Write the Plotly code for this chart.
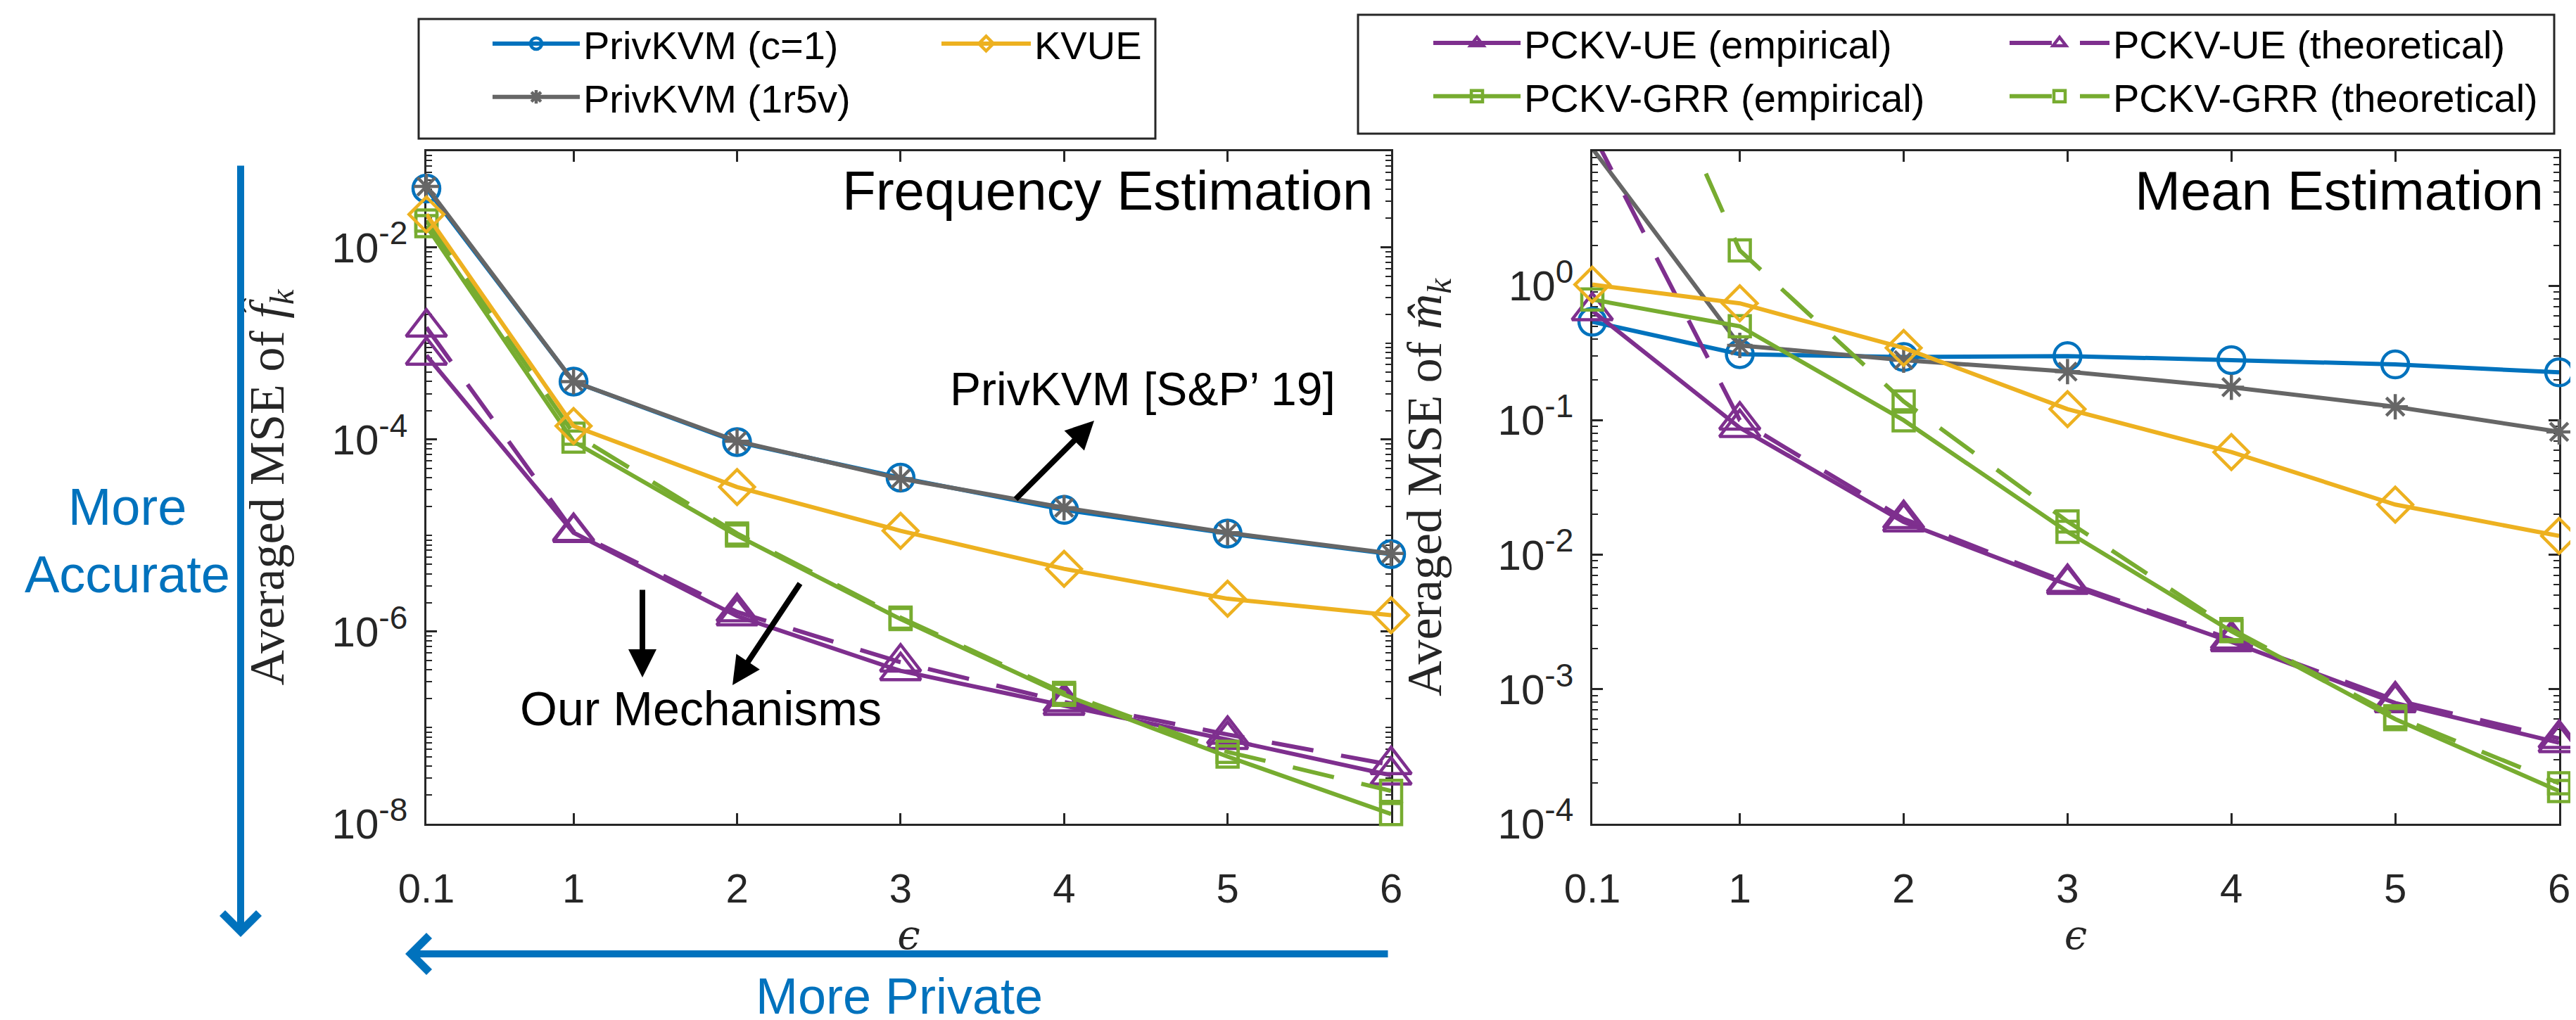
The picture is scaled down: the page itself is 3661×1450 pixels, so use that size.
import plotly.graph_objects as go

W, H = 3661, 1450

# ---------------- data ----------------
eps = [0.1, 1, 2, 3, 4, 5, 6]
x_ticktext = ["0.1", "1", "2", "3", "4", "5", "6"]

# Frequency estimation (left panel): averaged MSE of f_k
freq_privkvm_c1 = [4.1e-2, 4.0e-4, 9.4e-5, 4.0e-5, 1.85e-5, 1.05e-5, 6.4e-6]
freq_privkvm_1r5v = [4.3e-2, 4.0e-4, 9.6e-5, 3.9e-5, 1.95e-5, 1.07e-5, 6.5e-6]
freq_kvue = [2.2e-2, 1.38e-4, 3.2e-5, 1.12e-5, 4.5e-6, 2.2e-6, 1.48e-6]
freq_ue_emp = [7.5e-4, 1.07e-5, 1.45e-6, 3.9e-7, 1.7e-7, 7.5e-8, 3.2e-8]
freq_ue_theo = [1.47e-3, 1.1e-5, 1.6e-6, 4.8e-7, 1.85e-7, 8.5e-8, 4.1e-8]
freq_grr_emp = [1.66e-2, 9.5e-5, 1.0e-5, 1.35e-6, 2.2e-7, 5.0e-8, 1.26e-8]
freq_grr_theo = [1.9e-2, 1.15e-4, 1.05e-5, 1.4e-6, 2.3e-7, 5.6e-8, 2.2e-8]

# Mean estimation (right panel): averaged MSE of m_k
mean_privkvm_c1 = [0.54, 0.31, 0.295, 0.30, 0.28, 0.26, 0.227]
mean_privkvm_1r5v = [10.5, 0.36, 0.28, 0.23, 0.176, 0.126, 0.082]
mean_kvue = [1.02, 0.74, 0.345, 0.121, 0.058, 0.0236, 0.0138]
mean_ue_emp = [0.65, 0.088, 0.0175, 6.0e-3, 2.25e-3, 7.9e-4, 4.0e-4]
mean_ue_theo = [13.8, 0.10, 0.0185, 6.2e-3, 2.35e-3, 8.3e-4, 4.3e-4]
mean_grr_emp = [0.79, 0.50, 0.10, 0.0148, 2.7e-3, 6.0e-4, 1.75e-4]
mean_grr_theo = [560.0, 1.83, 0.138, 0.0177, 2.8e-3, 6.3e-4, 2.0e-4]

left_major = [1e-8, 1e-6, 1e-4, 1e-2]
left_exp = ["-8", "-6", "-4", "-2"]
right_major = [1e-4, 1e-3, 1e-2, 1e-1, 1]
right_exp = ["-4", "-3", "-2", "-1", "0"]

# ---------------- styles ----------------
BLUE, GRAY, YELLOW, PURPLE, GREEN = "#0072BD", "#666666", "#EDB120", "#7E2F8E", "#77AC30"
AX = "#262626"
SANS = "Liberation Sans"


def power_labels(exps):
    return ["10<sup><span style='font-size:46px'>%s</span></sup>" % e for e in exps]


series = [
    # name, left data, right data, color, symbol, size, dash, legend
    ("PrivKVM (c=1)", freq_privkvm_c1, mean_privkvm_c1, BLUE, "circle-open", 38, "solid", "legend"),
    ("PrivKVM (1r5v)", freq_privkvm_1r5v, mean_privkvm_1r5v, GRAY, "asterisk-open", 30, "solid", "legend"),
    ("PCKV-UE (empirical)", freq_ue_emp, mean_ue_emp, PURPLE, "triangle-up-open", 50, "solid", "legend3"),
    ("PCKV-UE (theoretical)", freq_ue_theo, mean_ue_theo, PURPLE, "triangle-up-open", 50, "60px,40px", "legend4"),
    ("PCKV-GRR (empirical)", freq_grr_emp, mean_grr_emp, GREEN, "square-open", 30, "solid", "legend3"),
    ("PCKV-GRR (theoretical)", freq_grr_theo, mean_grr_theo, GREEN, "square-open", 30, "60px,40px", "legend4"),
    ("KVUE", freq_kvue, mean_kvue, YELLOW, "diamond-open", 38, "solid", "legend2"),
]

fig = go.Figure()
for name, fl, fr, col, sym, sz, dash, leg in series:
    fig.add_trace(go.Scatter(
        x=eps, y=fl, name=name, mode="lines+markers", legendgroup=name, legend=leg,
        line=dict(color=col, width=6, dash=dash),
        marker=dict(symbol=sym, size=sz, color=col, line=dict(width=4.5, color=col)),
        cliponaxis=False, xaxis="x", yaxis="y", showlegend=True))
    vis = [1.0 if v <= 10 else 0.0 for v in fr]
    fig.add_trace(go.Scatter(
        x=eps, y=fr, name=name, mode="lines+markers", legendgroup=name, legend=leg,
        line=dict(color=col, width=6, dash=dash),
        marker=dict(symbol=sym, size=sz, color=col, opacity=vis, line=dict(width=4.5, color=col)),
        cliponaxis=False, xaxis="x2", yaxis="y2", showlegend=False))


def minor_vals(lo, hi, majors):
    out = []
    for k in range(lo, hi + 1):
        for n in range(1, 10):
            v = n * 10.0 ** k
            if v <= 10.0 ** hi * 1.0001 and all(abs(v - m) > 1e-12 * m for m in majors):
                out.append(v)
    return out


def xax(domain, anchor):
    return dict(domain=domain, anchor=anchor, range=[0.1, 6], tickmode="array", tickvals=eps,
                ticktext=x_ticktext,
                ticks="inside", ticklen=15, tickwidth=2.5, tickcolor=AX, showline=True, linecolor=AX,
                linewidth=2.5, mirror="allticks", showgrid=False, zeroline=False, automargin=False,
                tickfont=dict(family=SANS, size=58, color=AX), ticklabelstandoff=40, layer="below traces",
                title=dict(text="<i>ϵ</i>", font=dict(family="DejaVu Serif", size=58, color=AX), standoff=0))


def yax(domain, rng, majors, mtext, title, anchor, standoff):
    return dict(domain=domain, type="log", range=rng, tickmode="array", tickvals=majors, ticktext=mtext,
                ticks="inside", ticklen=15, tickwidth=2.5, tickcolor=AX, showline=True, linecolor=AX,
                linewidth=2.5, mirror="allticks", showgrid=False, zeroline=False, automargin=False,
                anchor=anchor,
                minor=dict(tickmode="array", tickvals=minor_vals(rng[0], rng[1], majors), ticks="inside",
                           ticklen=8, tickwidth=2, tickcolor=AX, showgrid=False),
                tickfont=dict(family=SANS, size=60, color=AX), ticklabelstandoff=12, layer="below traces",
                title=dict(text=title, font=dict(family="Liberation Serif", size=70, color=AX),
                           standoff=standoff))


ydom = [1 - 1163 / H, 1 - 207 / H]


def px(x):
    return x / W


def py(y):
    return 1 - y / H


leg_font = dict(family=SANS, size=56, color="black")


def legend(x, y, iw):
    return dict(x=px(x), y=py(y), xanchor="left", yanchor="top", itemwidth=iw, font=leg_font,
                bgcolor="rgba(0,0,0,0)", borderwidth=0, tracegroupgap=0, orientation="v")


annotations = [
    dict(text="Frequency Estimation", x=px(1945), y=py(263), xref="paper", yref="paper",
         xanchor="right", yanchor="middle", showarrow=False, font=dict(family=SANS, size=78, color="black")),
    dict(text="Mean Estimation", x=px(3609), y=py(263), xref="paper", yref="paper",
         xanchor="right", yanchor="middle", showarrow=False, font=dict(family=SANS, size=78, color="black")),
    dict(text="PrivKVM [S&P’ 19]", x=px(1340), y=py(545), xref="paper", yref="paper",
         xanchor="left", yanchor="middle", showarrow=False, font=dict(family=SANS, size=66, color="black")),
    dict(text="Our Mechanisms", x=px(729), y=py(999), xref="paper", yref="paper",
         xanchor="left", yanchor="middle", showarrow=False, font=dict(family=SANS, size=68, color="black")),
    dict(text="More<br>Accurate", x=px(173), y=py(760), xref="paper", yref="paper", align="center",
         xanchor="center", yanchor="middle", showarrow=False, font=dict(family=SANS, size=74, color=BLUE)),
    dict(text="More Private", x=px(1270), y=py(1408), xref="paper", yref="paper",
         xanchor="center", yanchor="middle", showarrow=False, font=dict(family=SANS, size=72, color=BLUE)),
    # black arrows
    dict(text="", x=px(1547), y=py(590), xref="paper", yref="paper", showarrow=True,
         ax=1434 - 1547, ay=703 - 590, arrowhead=2, arrowsize=1.0, arrowwidth=8, arrowcolor="black"),
    dict(text="", x=px(905), y=py(955), xref="paper", yref="paper", showarrow=True,
         ax=0, ay=829 - 955, arrowhead=2, arrowsize=1.0, arrowwidth=8, arrowcolor="black"),
    dict(text="", x=px(1033), y=py(966), xref="paper", yref="paper", showarrow=True,
         ax=1130 - 1033, ay=820 - 966, arrowhead=2, arrowsize=1.0, arrowwidth=8, arrowcolor="black"),
    # blue arrows
    dict(text="", x=px(334), y=py(1324), xref="paper", yref="paper", showarrow=True,
         ax=0, ay=226 - 1324, arrowhead=4, arrowsize=1.0, arrowwidth=10, arrowcolor=BLUE),
    dict(text="", x=px(568), y=py(1348), xref="paper", yref="paper", showarrow=True,
         ax=1966 - 568, ay=0, arrowhead=4, arrowsize=1.0, arrowwidth=10, arrowcolor=BLUE),
]

shapes = [
    dict(type="rect", xref="paper", yref="paper", x0=px(587), x1=px(1634), y0=py(189), y1=py(19),
         line=dict(color=AX, width=3), fillcolor="rgba(0,0,0,0)"),
    dict(type="rect", xref="paper", yref="paper", x0=px(1922), x1=px(3622), y0=py(182), y1=py(13),
         line=dict(color=AX, width=3), fillcolor="rgba(0,0,0,0)"),
]

fig.update_layout(
    width=W, height=H, margin=dict(l=0, r=0, t=0, b=0),
    paper_bgcolor="white", plot_bgcolor="white",
    font=dict(family=SANS, color="black"),
    xaxis=xax([598 / W, 1969 / W], "y"),
    xaxis2=xax([2255 / W, 3629 / W], "y2"),
    yaxis=yax(ydom, [-8, -1], left_major, power_labels(left_exp),
              "Averaged MSE of <i>f̂</i><sub><i>k</i></sub>", "x", 46),
    yaxis2=yax(ydom, [-4, 1], right_major, power_labels(right_exp),
               "Averaged MSE of <i>m̂</i><sub><i>k</i></sub>", "x2", 58),
    legend=legend(687, 11, 124),
    legend2=legend(1325, 11, 127),
    legend3=legend(2024, 10, 124),
    legend4=legend(2843, 10, 142),
    annotations=annotations,
    shapes=shapes,
)

fig.write_html("out.html")
